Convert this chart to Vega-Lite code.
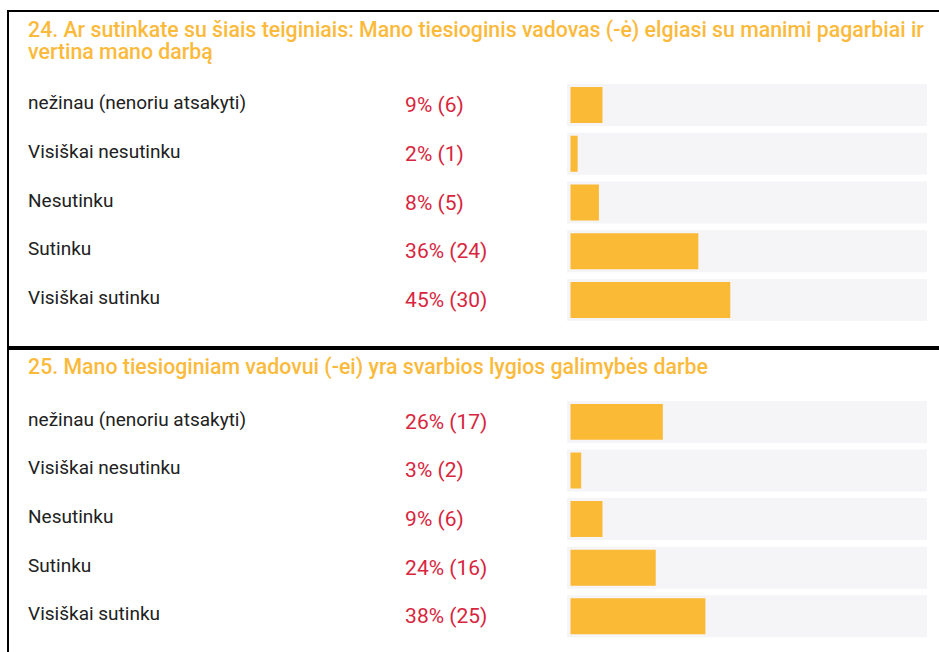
{
  "$schema": "https://vega.github.io/schema/vega-lite/v6.json",
  "padding": {"left": 7, "top": 10, "right": 0, "bottom": 0},
  "spacing": 0,
  "background": "#ffffff",
  "config": {"view": {"stroke": "#000000", "strokeWidth": 2}, "font": "Roboto"},
  "resolve": {"scale": {"x": "independent", "y": "independent"}},
  "datasets": {
    "q24title": [{"answer": "klausimas", "question": "24. Ar sutinkate su šiais teiginiais: Mano tiesioginis vadovas (-ė) elgiasi su manimi pagarbiai ir\nvertina mano darbą"}],
    "q24": [
      {"answer": "nežinau (nenoriu atsakyti)", "pct": 9, "n": 6, "label": "9% (6)"},
      {"answer": "Visiškai nesutinku", "pct": 2, "n": 1, "label": "2% (1)"},
      {"answer": "Nesutinku", "pct": 8, "n": 5, "label": "8% (5)"},
      {"answer": "Sutinku", "pct": 36, "n": 24, "label": "36% (24)"},
      {"answer": "Visiškai sutinku", "pct": 45, "n": 30, "label": "45% (30)"}
    ],
    "q25title": [{"answer": "klausimas", "question": "25. Mano tiesioginiam vadovui (-ei) yra svarbios lygios galimybės darbe"}],
    "q25": [
      {"answer": "nežinau (nenoriu atsakyti)", "pct": 26, "n": 17, "label": "26% (17)"},
      {"answer": "Visiškai nesutinku", "pct": 3, "n": 2, "label": "3% (2)"},
      {"answer": "Nesutinku", "pct": 9, "n": 6, "label": "9% (6)"},
      {"answer": "Sutinku", "pct": 24, "n": 16, "label": "24% (16)"},
      {"answer": "Visiškai sutinku", "pct": 38, "n": 25, "label": "38% (25)"}
    ]
  },
  "vconcat": [
    {
      "width": 934,
      "height": 336,
      "layer": [
        {
          "data": {"name": "q24"},
          "mark": {"type": "bar", "color": "#F5F4F7", "height": {"band": 0.862}},
          "encoding": {
            "y": {"field": "answer", "type": "nominal", "axis": null,
                  "scale": {"domain": ["klausimas", "nežinau (nenoriu atsakyti)", "Visiškai nesutinku", "Nesutinku", "Sutinku", "Visiškai sutinku"], "paddingInner": 0, "paddingOuter": 0.446, "align": 0.48}},
            "x": {"datum": 100.4, "type": "quantitative", "axis": null, "scale": {"domain": [-158.45, 104.64], "nice": false, "zero": false}},
            "x2": {"datum": -1}
          }
        },
        {
          "data": {"name": "q24"},
          "mark": {"type": "bar", "color": "#FBBA35", "height": {"band": 0.74}},
          "encoding": {
            "y": {"field": "answer", "type": "nominal"},
            "x": {"field": "pct", "type": "quantitative"},
            "x2": {"datum": 0}
          }
        },
        {
          "data": {"name": "q24"},
          "mark": {"type": "text", "align": "left", "baseline": "middle", "fontSize": 19, "color": "#212121", "dy": -2},
          "encoding": {
            "y": {"field": "answer", "type": "nominal"},
            "x": {"datum": -152.8, "type": "quantitative"},
            "text": {"field": "answer", "type": "nominal"}
          }
        },
        {
          "data": {"name": "q24"},
          "mark": {"type": "text", "align": "left", "baseline": "middle", "fontSize": 21, "color": "#D7263D", "dy": 1},
          "encoding": {
            "y": {"field": "answer", "type": "nominal"},
            "x": {"datum": -46.6, "type": "quantitative"},
            "text": {"field": "label", "type": "nominal"}
          }
        },
        {
          "data": {"name": "q24title"},
          "mark": {"type": "text", "align": "left", "baseline": "middle", "fontSize": 21.3, "fontWeight": 500, "color": "#FBBA3C", "lineBreak": "\n", "lineHeight": 22, "dy": -25},
          "encoding": {
            "y": {"field": "answer", "type": "nominal"},
            "x": {"datum": -152.8, "type": "quantitative"},
            "text": {"field": "question", "type": "nominal"}
          }
        }
      ]
    },
    {
      "width": 934,
      "height": 308,
      "layer": [
        {
          "data": {"name": "q25"},
          "mark": {"type": "bar", "color": "#F5F4F7", "height": {"band": 0.864}},
          "encoding": {
            "y": {"field": "answer", "type": "nominal", "axis": null,
                  "scale": {"domain": ["klausimas", "nežinau (nenoriu atsakyti)", "Visiškai nesutinku", "Nesutinku", "Sutinku", "Visiškai sutinku"], "paddingInner": 0, "paddingOuter": 0.169, "align": 0.0}},
            "x": {"datum": 100.4, "type": "quantitative", "axis": null, "scale": {"domain": [-158.45, 104.64], "nice": false, "zero": false}},
            "x2": {"datum": -1}
          }
        },
        {
          "data": {"name": "q25"},
          "mark": {"type": "bar", "color": "#FBBA35", "height": {"band": 0.74}},
          "encoding": {
            "y": {"field": "answer", "type": "nominal"},
            "x": {"field": "pct", "type": "quantitative"},
            "x2": {"datum": 0}
          }
        },
        {
          "data": {"name": "q25"},
          "mark": {"type": "text", "align": "left", "baseline": "middle", "fontSize": 19, "color": "#212121", "dy": -2},
          "encoding": {
            "y": {"field": "answer", "type": "nominal"},
            "x": {"datum": -152.8, "type": "quantitative"},
            "text": {"field": "answer", "type": "nominal"}
          }
        },
        {
          "data": {"name": "q25"},
          "mark": {"type": "text", "align": "left", "baseline": "middle", "fontSize": 21, "color": "#D7263D", "dy": 1},
          "encoding": {
            "y": {"field": "answer", "type": "nominal"},
            "x": {"datum": -46.6, "type": "quantitative"},
            "text": {"field": "label", "type": "nominal"}
          }
        },
        {
          "data": {"name": "q25title"},
          "mark": {"type": "text", "align": "left", "baseline": "middle", "fontSize": 21.3, "fontWeight": 500, "color": "#FBBA3C", "dy": -5},
          "encoding": {
            "y": {"field": "answer", "type": "nominal"},
            "x": {"datum": -152.8, "type": "quantitative"},
            "text": {"field": "question", "type": "nominal"}
          }
        }
      ]
    }
  ]
}
